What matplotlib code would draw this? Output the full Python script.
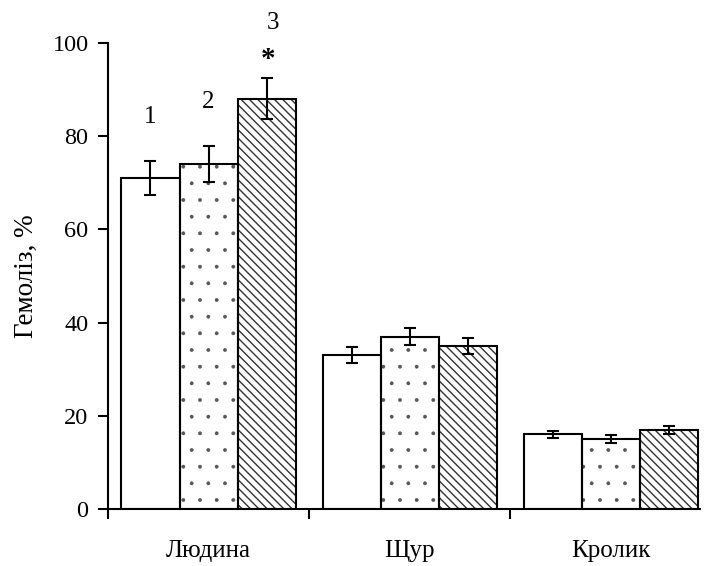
"""Haemolysis bar chart (three species, three treatments)."""

import matplotlib
matplotlib.use("Agg")
import matplotlib.pyplot as plt
import numpy as np

species = ["Людина", "Щур", "Кролик"]
series_labels = ["1", "2", "3"]
values = [
    [71.0, 33.0, 16.0],
    [74.0, 37.0, 15.0],
    [88.0, 35.0, 17.0],
]
errors = [
    [3.6, 1.7, 0.8],
    [3.8, 1.8, 0.8],
    [4.4, 1.8, 0.9],
]
# significance marks, per series, only for the first group
marks = ["", "", "*"]

plt.rcParams.update(
    {
        "font.family": ["Liberation Serif", "DejaVu Serif"],
        "hatch.linewidth": 1.0,
        "axes.linewidth": 1.5,
    }
)

fig = plt.figure(figsize=(7.04, 5.66), dpi=100)
ax = fig.add_axes([0.1534, 0.1007, 0.841, 0.8233])

width = 0.2886
centers = np.arange(len(species)) + 0.5
hatches = ["", ".", "\\\\\\\\"]
hatch_colors = ["white", "#555555", "#333333"]
hatch_widths = [1.0, 0.3, 1.0]

for i, (vals, errs) in enumerate(zip(values, errors)):
    xs = centers + (i - 1) * width
    # fill + grey hatch, then black outline on top
    filled = ax.bar(
        xs, vals, width=width, facecolor="white", edgecolor=hatch_colors[i],
        linewidth=0, hatch=hatches[i], zorder=2,
    )
    for p in filled:
        if hasattr(p, "set_hatch_linewidth"):
            p.set_hatch_linewidth(hatch_widths[i])
    ax.bar(
        xs, vals, width=width, facecolor="none", edgecolor="black",
        linewidth=1.5, zorder=2.5,
    )
    ax.errorbar(
        xs, vals, yerr=errs, fmt="none", ecolor="black", elinewidth=1.5,
        capsize=4.5, capthick=1.5, zorder=3,
    )
    # series number above the first group
    top = vals[0] + errs[0]
    if marks[i]:
        ax.text(xs[0] + 0.01, top + 4.0, marks[i], ha="center", va="center",
                fontsize=21, fontweight="bold", clip_on=False)
        ax.text(xs[0] + 0.03, top + 12.0, series_labels[i], ha="center",
                va="center", fontsize=18, clip_on=False)
    else:
        ax.text(xs[0], top + 9.5, series_labels[i], ha="center",
                va="center", fontsize=18, clip_on=False)

ax.set_xlim(0, 2.945)
ax.set_ylim(0, 100)
ax.set_yticks(np.arange(0, 101, 20))
ax.set_xticks([0, 1, 2])
ax.set_xticklabels([])
ax.set_xticks(centers, minor=True)
ax.set_xticklabels(species, minor=True)
ax.tick_params(axis="x", which="minor", length=0, pad=22, labelsize=18)
ax.tick_params(axis="x", which="major", length=7, width=1.5, direction="out")
ax.tick_params(axis="y", length=7, width=1.5, direction="out", labelsize=17.5, pad=7)

for side in ("top", "right"):
    ax.spines[side].set_visible(False)

ax.set_ylabel("Гемоліз, %", fontsize=19.5, labelpad=10)

fig.savefig("out.png", dpi=100)
